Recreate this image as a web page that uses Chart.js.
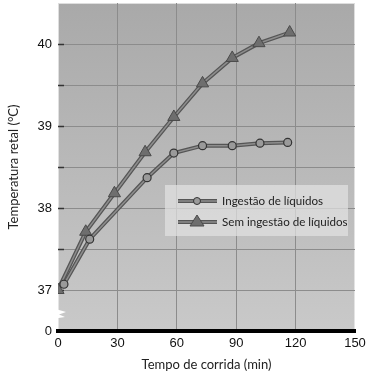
<!DOCTYPE html>
<html lang="pt">
<head>
<meta charset="UTF-8">
<title>Temperatura retal</title>
<script src="https://cdn.jsdelivr.net/npm/chart.js"></script>
<style>
  html, body { margin: 0; padding: 0; background: #fff; }
  #box { width: 368px; height: 377px; }
</style>
</head>
<body>
<div id="box"><canvas id="grafico"></canvas></div>
<script>
// dados
const tempoIngestao = [3, 16, 45, 58.5, 73, 88, 102, 116];
const tempIngestao = [37.07, 37.62, 38.37, 38.67, 38.76, 38.76, 38.79, 38.80];
const tempoSem = [0, 14, 28.5, 44, 58.5, 73, 88, 101.5, 117];
const tempSem = [37.0, 37.71, 38.18, 38.68, 39.11, 39.52, 39.83, 40.01, 40.14];
const nomes = ['Ingestão de líquidos', 'Sem ingestão de líquidos'];
const ticksX = [0, 30, 60, 90, 120, 150];

function pontos(xs, ys) {
    return xs.map((x, i) => ({ x: x, y: ys[i] }));
}

const serieA = pontos(tempoIngestao, tempIngestao);
const serieB = pontos(tempoSem, tempSem);

// fundo cinza, marcas e quebra do eixo
const fundo = {
    id: 'fundo',
    beforeDraw(chart) {
        const a = chart.chartArea, ctx = chart.ctx;
        const g = ctx.createLinearGradient(0, a.top, 0, a.bottom);
        g.addColorStop(0, '#a9a9a9');
        g.addColorStop(1, '#c9c9c9');
        ctx.save();
        ctx.fillStyle = g;
        ctx.fillRect(a.left, a.top, a.right - a.left, a.bottom - a.top);
        ctx.strokeStyle = 'rgba(235,235,235,0.8)';
        ctx.lineWidth = 1;
        ctx.strokeRect(a.left + 0.5, a.top + 0.5, a.right - a.left - 1, a.bottom - a.top);
        ctx.restore();
    },
    beforeDatasetsDraw(chart) {
        const a = chart.chartArea, ctx = chart.ctx, y = chart.scales.y;
        ctx.save();
        ctx.strokeStyle = '#333';
        ctx.lineWidth = 1.5;
        for (let v = 37; v <= 40; v += 0.5) {
            const py = Math.round(y.getPixelForValue(v)) + 0.5;
            ctx.beginPath();
            ctx.moveTo(a.left, py);
            ctx.lineTo(a.left + 6, py);
            ctx.stroke();
        }
        // quebra do eixo
        ctx.fillStyle = '#fff';
        ctx.beginPath();
        ctx.moveTo(a.left - 6, 308);
        ctx.lineTo(a.left + 8, 312);
        ctx.lineTo(a.left + 1, 314.5);
        ctx.lineTo(a.left + 7, 317);
        ctx.lineTo(a.left - 6, 319);
        ctx.closePath();
        ctx.fill();
        ctx.restore();
    },
    afterDatasetsDraw(chart) {
        const ctx = chart.ctx;
        ctx.save();
        ctx.fillStyle = 'rgba(226,226,226,0.7)';
        ctx.fillRect(165, 185, 183, 51);
        const linhas = [201, 222];
        linhas.forEach((ly, i) => {
            ctx.strokeStyle = '#555';
            ctx.lineWidth = 4;
            ctx.beginPath(); ctx.moveTo(178, ly); ctx.lineTo(217, ly); ctx.stroke();
            ctx.strokeStyle = '#8e8e8e';
            ctx.lineWidth = 1.5;
            ctx.beginPath(); ctx.moveTo(178, ly); ctx.lineTo(217, ly); ctx.stroke();
            ctx.lineWidth = 1;
            if (i === 0) {
                ctx.fillStyle = '#9a9a9a';
                ctx.strokeStyle = '#333';
                ctx.beginPath(); ctx.arc(197, ly, 3.5, 0, Math.PI * 2); ctx.fill(); ctx.stroke();
            } else {
                ctx.fillStyle = '#6e6e6e';
                ctx.strokeStyle = '#4a4a4a';
                ctx.beginPath();
                ctx.moveTo(197, ly - 7); ctx.lineTo(204, ly + 4); ctx.lineTo(190, ly + 4);
                ctx.closePath(); ctx.fill(); ctx.stroke();
            }
            ctx.fillStyle = '#222';
            ctx.font = '11.6px Lato';
            ctx.textBaseline = 'middle';
            ctx.fillText(nomes[i], 222, ly);
        });
        ctx.restore();
    }
};

const grafico = document.getElementById('grafico');

new Chart(grafico, {
    type: 'line',
    data: {
        datasets: [
            { label: nomes[0], data: serieA, showLine: false, order: 0,
              pointRadius: 4, pointBackgroundColor: '#9a9a9a', pointBorderColor: '#333', pointBorderWidth: 1.2 },
            { data: serieA, borderColor: '#8e8e8e', borderWidth: 1.5, pointRadius: 0, order: 1 },
            { data: serieA, borderColor: '#555', borderWidth: 4, pointRadius: 0, order: 2 },
            { label: nomes[1], data: serieB, showLine: false, order: 3, pointStyle: 'triangle',
              pointRadius: 7, pointBackgroundColor: '#6e6e6e', pointBorderColor: '#4a4a4a', pointBorderWidth: 1 },
            { data: serieB, borderColor: '#8e8e8e', borderWidth: 1.5, pointRadius: 0, order: 4 },
            { data: serieB, borderColor: '#555', borderWidth: 4, pointRadius: 0, order: 5 }
        ]
    },
    options: {
        responsive: true,
        maintainAspectRatio: false,
        animation: false,
        layout: { autoPadding: false, padding: { top: 3, right: 13, left: 0, bottom: 0 } },
        plugins: { legend: { display: false }, tooltip: { enabled: false } },
        scales: {
            x: {
                type: 'linear',
                min: 0, max: 150,
                afterFit(s) { s.height = 46; s.paddingLeft = 0; s.paddingRight = 0; },
                afterBuildTicks(s) { s.ticks = ticksX.map(v => ({ value: v })); },
                grid: {
                    drawTicks: false,
                    color: c => (c.tick.value === 0 || c.tick.value === 150) ? 'rgba(0,0,0,0)' : '#8c8c8c'
                },
                border: { display: true, color: '#000', width: 4 },
                ticks: { color: '#111', padding: 5, font: { family: 'Liberation Sans', size: 13 } },
                title: { display: true, text: 'Tempo de corrida (min)', color: '#222',
                         font: { family: 'Lato', size: 13 }, padding: { top: 0, bottom: 4 } }
            },
            y: {
                min: 36.5, max: 40.5,
                afterFit(s) { s.width = 58; s.paddingTop = 0; s.paddingBottom = 0; },
                ticks: {
                    stepSize: 0.5, color: '#111', padding: 6,
                    font: { family: 'Liberation Sans', size: 13 },
                    callback: v => v === 36.5 ? '0' : (Number.isInteger(v) ? v : '')
                },
                grid: {
                    drawTicks: false,
                    color: c => (c.tick.value === 36.5 || c.tick.value === 40.5) ? 'rgba(0,0,0,0)' : '#8c8c8c'
                },
                border: { display: false },
                title: { display: true, text: 'Temperatura retal (°C)', color: '#222',
                         font: { family: 'Lato', size: 13 }, padding: { top: 6, bottom: 0 } }
            }
        }
    },
    plugins: [fundo]
});
</script>
</body>
</html>
